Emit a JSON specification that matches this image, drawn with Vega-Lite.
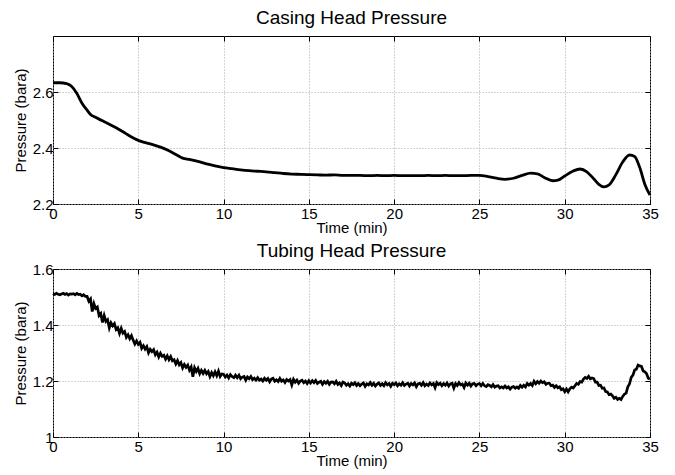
{
  "$schema": "https://vega.github.io/schema/vega-lite/v6.json",
  "padding": {"left": 12, "top": 8, "right": 0, "bottom": 0},
  "spacing": 5,
  "config": {
    "font": "Liberation Sans",
    "view": {"stroke": "black", "strokeWidth": 1},
    "title": {"fontSize": 19, "fontWeight": "normal", "color": "black", "anchor": "middle", "frame": "group", "baseline": "alphabetic", "font": "Liberation Sans"},
    "axis": {
      "labelFont": "Liberation Sans", "titleFont": "Liberation Sans",
      "labelFontSize": 15, "titleFontSize": 15, "titleFontWeight": "normal",
      "labelColor": "black", "titleColor": "black",
      "tickColor": "black", "tickSize": -5, "tickWidth": 1,
      "domain": false,
      "gridColor": "#a8a8a8", "gridDash": [1, 2], "gridWidth": 1, "gridOpacity": 1
    },
    "axisX": {"labelPadding": 7, "titlePadding": -1, "labelFlush": false},
    "axisY": {"labelPadding": 5, "titlePadding": 4, "labelFlush": false}
  },
  "datasets": {
    "casing": [
      {"t": 0, "p": 2.633}, {"t": 0.4, "p": 2.633}, {"t": 0.8, "p": 2.63}, {"t": 1.1, "p": 2.62}, {"t": 1.4, "p": 2.595},
      {"t": 1.7, "p": 2.56}, {"t": 2.0, "p": 2.535}, {"t": 2.2, "p": 2.52}, {"t": 2.5, "p": 2.51}, {"t": 2.9, "p": 2.497},
      {"t": 3.3, "p": 2.485}, {"t": 3.7, "p": 2.472}, {"t": 4.1, "p": 2.458}, {"t": 4.5, "p": 2.443}, {"t": 4.9, "p": 2.43},
      {"t": 5.3, "p": 2.421}, {"t": 5.8, "p": 2.413}, {"t": 6.3, "p": 2.403}, {"t": 6.8, "p": 2.39}, {"t": 7.2, "p": 2.377},
      {"t": 7.6, "p": 2.364}, {"t": 8.0, "p": 2.359}, {"t": 8.5, "p": 2.352}, {"t": 9.0, "p": 2.343}, {"t": 9.5, "p": 2.336},
      {"t": 10.0, "p": 2.33}, {"t": 10.5, "p": 2.326}, {"t": 11.0, "p": 2.322}, {"t": 11.5, "p": 2.319}, {"t": 12.0, "p": 2.317},
      {"t": 12.5, "p": 2.315}, {"t": 13.0, "p": 2.312}, {"t": 13.5, "p": 2.309}, {"t": 14.0, "p": 2.307}, {"t": 14.5, "p": 2.306},
      {"t": 15.0, "p": 2.305}, {"t": 15.5, "p": 2.304}, {"t": 16.0, "p": 2.303}, {"t": 16.5, "p": 2.304}, {"t": 17.0, "p": 2.302},
      {"t": 17.5, "p": 2.302}, {"t": 18.0, "p": 2.302}, {"t": 18.5, "p": 2.301}, {"t": 19.0, "p": 2.302}, {"t": 19.5, "p": 2.301},
      {"t": 20.0, "p": 2.302}, {"t": 20.5, "p": 2.301}, {"t": 21.0, "p": 2.301}, {"t": 21.5, "p": 2.301}, {"t": 22.0, "p": 2.302},
      {"t": 22.5, "p": 2.301}, {"t": 23.0, "p": 2.302}, {"t": 23.5, "p": 2.301}, {"t": 24.0, "p": 2.301}, {"t": 24.5, "p": 2.302},
      {"t": 25.0, "p": 2.302}, {"t": 25.5, "p": 2.298}, {"t": 26.0, "p": 2.292}, {"t": 26.5, "p": 2.288}, {"t": 27.0, "p": 2.292},
      {"t": 27.5, "p": 2.302}, {"t": 28.0, "p": 2.31}, {"t": 28.4, "p": 2.308}, {"t": 28.8, "p": 2.295}, {"t": 29.3, "p": 2.283},
      {"t": 29.6, "p": 2.285}, {"t": 30.0, "p": 2.3}, {"t": 30.5, "p": 2.318}, {"t": 30.9, "p": 2.325}, {"t": 31.3, "p": 2.315},
      {"t": 31.7, "p": 2.29}, {"t": 32.0, "p": 2.27}, {"t": 32.3, "p": 2.261}, {"t": 32.6, "p": 2.268}, {"t": 33.0, "p": 2.305},
      {"t": 33.4, "p": 2.35}, {"t": 33.8, "p": 2.375}, {"t": 34.1, "p": 2.37}, {"t": 34.4, "p": 2.33}, {"t": 34.7, "p": 2.27},
      {"t": 35.0, "p": 2.232}
    ],
    "tubing": [
      {"t":0.0,"p":1.512},{"t":0.1,"p":1.509},{"t":0.2,"p":1.513},{"t":0.3,"p":1.510},{"t":0.4,"p":1.508},
      {"t":0.5,"p":1.511},{"t":0.6,"p":1.513},{"t":0.7,"p":1.509},{"t":0.8,"p":1.512},{"t":0.9,"p":1.507},
      {"t":1.0,"p":1.511},{"t":1.1,"p":1.510},{"t":1.2,"p":1.512},{"t":1.3,"p":1.508},{"t":1.4,"p":1.513},
      {"t":1.5,"p":1.509},{"t":1.6,"p":1.510},{"t":1.7,"p":1.504},{"t":1.8,"p":1.508},{"t":1.9,"p":1.502},
      {"t":2.0,"p":1.502},{"t":2.1,"p":1.485},{"t":2.2,"p":1.493},{"t":2.3,"p":1.448},{"t":2.4,"p":1.476},
      {"t":2.5,"p":1.459},{"t":2.6,"p":1.464},{"t":2.7,"p":1.434},{"t":2.8,"p":1.441},{"t":2.9,"p":1.409},
      {"t":3.0,"p":1.434},{"t":3.1,"p":1.413},{"t":3.2,"p":1.419},{"t":3.3,"p":1.390},{"t":3.4,"p":1.408},
      {"t":3.5,"p":1.397},{"t":3.6,"p":1.405},{"t":3.7,"p":1.384},{"t":3.8,"p":1.390},{"t":3.9,"p":1.370},
      {"t":4.0,"p":1.388},{"t":4.1,"p":1.371},{"t":4.2,"p":1.377},{"t":4.3,"p":1.356},{"t":4.4,"p":1.365},
      {"t":4.5,"p":1.351},{"t":4.6,"p":1.362},{"t":4.7,"p":1.346},{"t":4.8,"p":1.332},{"t":4.9,"p":1.343},
      {"t":5.0,"p":1.331},{"t":5.1,"p":1.338},{"t":5.2,"p":1.317},{"t":5.3,"p":1.326},{"t":5.4,"p":1.314},
      {"t":5.5,"p":1.323},{"t":5.6,"p":1.301},{"t":5.7,"p":1.313},{"t":5.8,"p":1.305},{"t":5.9,"p":1.312},
      {"t":6.0,"p":1.294},{"t":6.1,"p":1.303},{"t":6.2,"p":1.286},{"t":6.3,"p":1.299},{"t":6.4,"p":1.288},
      {"t":6.5,"p":1.292},{"t":6.6,"p":1.278},{"t":6.7,"p":1.290},{"t":6.8,"p":1.276},{"t":6.9,"p":1.287},
      {"t":7.0,"p":1.272},{"t":7.1,"p":1.276},{"t":7.2,"p":1.261},{"t":7.3,"p":1.273},{"t":7.4,"p":1.258},
      {"t":7.5,"p":1.266},{"t":7.6,"p":1.247},{"t":7.7,"p":1.259},{"t":7.8,"p":1.249},{"t":7.9,"p":1.257},
      {"t":8.0,"p":1.239},{"t":8.1,"p":1.250},{"t":8.2,"p":1.215},{"t":8.3,"p":1.247},{"t":8.4,"p":1.234},
      {"t":8.5,"p":1.245},{"t":8.6,"p":1.226},{"t":8.7,"p":1.238},{"t":8.8,"p":1.227},{"t":8.9,"p":1.238},
      {"t":9.0,"p":1.226},{"t":9.1,"p":1.234},{"t":9.2,"p":1.216},{"t":9.3,"p":1.230},{"t":9.4,"p":1.219},
      {"t":9.5,"p":1.233},{"t":9.6,"p":1.219},{"t":9.7,"p":1.235},{"t":9.8,"p":1.216},{"t":9.9,"p":1.225},
      {"t":10.0,"p":1.224},{"t":10.1,"p":1.214},{"t":10.2,"p":1.221},{"t":10.3,"p":1.211},{"t":10.4,"p":1.223},
      {"t":10.5,"p":1.216},{"t":10.6,"p":1.212},{"t":10.7,"p":1.221},{"t":10.8,"p":1.212},{"t":10.9,"p":1.221},
      {"t":11.0,"p":1.208},{"t":11.1,"p":1.214},{"t":11.2,"p":1.216},{"t":11.3,"p":1.203},{"t":11.4,"p":1.214},
      {"t":11.5,"p":1.208},{"t":11.6,"p":1.216},{"t":11.7,"p":1.205},{"t":11.8,"p":1.210},{"t":11.9,"p":1.203},
      {"t":12.0,"p":1.212},{"t":12.1,"p":1.203},{"t":12.2,"p":1.207},{"t":12.3,"p":1.200},{"t":12.4,"p":1.210},
      {"t":12.5,"p":1.203},{"t":12.6,"p":1.209},{"t":12.7,"p":1.197},{"t":12.8,"p":1.207},{"t":12.9,"p":1.210},
      {"t":13.0,"p":1.199},{"t":13.1,"p":1.204},{"t":13.2,"p":1.198},{"t":13.3,"p":1.209},{"t":13.4,"p":1.199},
      {"t":13.5,"p":1.204},{"t":13.6,"p":1.195},{"t":13.7,"p":1.205},{"t":13.8,"p":1.200},{"t":13.9,"p":1.205},
      {"t":14.0,"p":1.186},{"t":14.1,"p":1.206},{"t":14.2,"p":1.196},{"t":14.3,"p":1.203},{"t":14.4,"p":1.192},
      {"t":14.5,"p":1.200},{"t":14.6,"p":1.203},{"t":14.7,"p":1.194},{"t":14.8,"p":1.200},{"t":14.9,"p":1.191},
      {"t":15.0,"p":1.201},{"t":15.1,"p":1.193},{"t":15.2,"p":1.201},{"t":15.3,"p":1.194},{"t":15.4,"p":1.202},
      {"t":15.5,"p":1.191},{"t":15.6,"p":1.196},{"t":15.7,"p":1.199},{"t":15.8,"p":1.188},{"t":15.9,"p":1.198},
      {"t":16.0,"p":1.192},{"t":16.1,"p":1.199},{"t":16.2,"p":1.188},{"t":16.3,"p":1.196},{"t":16.4,"p":1.197},
      {"t":16.5,"p":1.190},{"t":16.6,"p":1.199},{"t":16.7,"p":1.188},{"t":16.8,"p":1.193},{"t":16.9,"p":1.184},
      {"t":17.0,"p":1.196},{"t":17.1,"p":1.193},{"t":17.2,"p":1.185},{"t":17.3,"p":1.190},{"t":17.4,"p":1.182},
      {"t":17.5,"p":1.192},{"t":17.6,"p":1.187},{"t":17.7,"p":1.194},{"t":17.8,"p":1.184},{"t":17.9,"p":1.191},
      {"t":18.0,"p":1.183},{"t":18.1,"p":1.189},{"t":18.2,"p":1.193},{"t":18.3,"p":1.181},{"t":18.4,"p":1.190},
      {"t":18.5,"p":1.186},{"t":18.6,"p":1.194},{"t":18.7,"p":1.185},{"t":18.8,"p":1.192},{"t":18.9,"p":1.182},
      {"t":19.0,"p":1.189},{"t":19.1,"p":1.193},{"t":19.2,"p":1.184},{"t":19.3,"p":1.190},{"t":19.4,"p":1.183},
      {"t":19.5,"p":1.194},{"t":19.6,"p":1.186},{"t":19.7,"p":1.191},{"t":19.8,"p":1.181},{"t":19.9,"p":1.192},
      {"t":20.0,"p":1.187},{"t":20.1,"p":1.193},{"t":20.2,"p":1.183},{"t":20.3,"p":1.190},{"t":20.4,"p":1.185},
      {"t":20.5,"p":1.194},{"t":20.6,"p":1.184},{"t":20.7,"p":1.189},{"t":20.8,"p":1.192},{"t":20.9,"p":1.182},
      {"t":21.0,"p":1.191},{"t":21.1,"p":1.186},{"t":21.2,"p":1.193},{"t":21.3,"p":1.180},{"t":21.4,"p":1.190},
      {"t":21.5,"p":1.192},{"t":21.6,"p":1.185},{"t":21.7,"p":1.194},{"t":21.8,"p":1.183},{"t":21.9,"p":1.189},
      {"t":22.0,"p":1.184},{"t":22.1,"p":1.193},{"t":22.2,"p":1.186},{"t":22.3,"p":1.191},{"t":22.4,"p":1.176},
      {"t":22.5,"p":1.194},{"t":22.6,"p":1.187},{"t":22.7,"p":1.192},{"t":22.8,"p":1.183},{"t":22.9,"p":1.191},
      {"t":23.0,"p":1.185},{"t":23.1,"p":1.193},{"t":23.2,"p":1.182},{"t":23.3,"p":1.190},{"t":23.4,"p":1.192},
      {"t":23.5,"p":1.175},{"t":23.6,"p":1.191},{"t":23.7,"p":1.184},{"t":23.8,"p":1.194},{"t":23.9,"p":1.186},
      {"t":24.0,"p":1.189},{"t":24.1,"p":1.177},{"t":24.2,"p":1.193},{"t":24.3,"p":1.185},{"t":24.4,"p":1.192},
      {"t":24.5,"p":1.182},{"t":24.6,"p":1.190},{"t":24.7,"p":1.191},{"t":24.8,"p":1.183},{"t":24.9,"p":1.189},
      {"t":25.0,"p":1.191},{"t":25.1,"p":1.183},{"t":25.2,"p":1.191},{"t":25.3,"p":1.183},{"t":25.4,"p":1.180},
      {"t":25.5,"p":1.187},{"t":25.6,"p":1.184},{"t":25.7,"p":1.179},{"t":25.8,"p":1.187},{"t":25.9,"p":1.178},
      {"t":26.0,"p":1.182},{"t":26.1,"p":1.183},{"t":26.2,"p":1.175},{"t":26.3,"p":1.179},{"t":26.4,"p":1.175},
      {"t":26.5,"p":1.182},{"t":26.6,"p":1.175},{"t":26.7,"p":1.179},{"t":26.8,"p":1.171},{"t":26.9,"p":1.178},
      {"t":27.0,"p":1.180},{"t":27.1,"p":1.174},{"t":27.2,"p":1.179},{"t":27.3,"p":1.174},{"t":27.4,"p":1.184},
      {"t":27.5,"p":1.178},{"t":27.6,"p":1.185},{"t":27.7,"p":1.179},{"t":27.8,"p":1.191},{"t":27.9,"p":1.185},
      {"t":28.0,"p":1.191},{"t":28.1,"p":1.184},{"t":28.2,"p":1.199},{"t":28.3,"p":1.190},{"t":28.4,"p":1.198},
      {"t":28.5,"p":1.192},{"t":28.6,"p":1.200},{"t":28.7,"p":1.194},{"t":28.8,"p":1.197},{"t":28.9,"p":1.188},
      {"t":29.0,"p":1.192},{"t":29.1,"p":1.192},{"t":29.2,"p":1.183},{"t":29.3,"p":1.185},{"t":29.4,"p":1.177},
      {"t":29.5,"p":1.183},{"t":29.6,"p":1.176},{"t":29.7,"p":1.179},{"t":29.8,"p":1.169},{"t":29.9,"p":1.172},
      {"t":30.0,"p":1.162},{"t":30.1,"p":1.171},{"t":30.2,"p":1.161},{"t":30.3,"p":1.172},{"t":30.4,"p":1.178},
      {"t":30.5,"p":1.175},{"t":30.6,"p":1.183},{"t":30.7,"p":1.191},{"t":30.8,"p":1.188},{"t":30.9,"p":1.198},
      {"t":31.0,"p":1.196},{"t":31.1,"p":1.207},{"t":31.2,"p":1.213},{"t":31.3,"p":1.209},{"t":31.4,"p":1.217},
      {"t":31.5,"p":1.208},{"t":31.6,"p":1.211},{"t":31.7,"p":1.209},{"t":31.8,"p":1.196},{"t":31.9,"p":1.196},
      {"t":32.0,"p":1.184},{"t":32.1,"p":1.185},{"t":32.2,"p":1.174},{"t":32.3,"p":1.175},{"t":32.4,"p":1.162},
      {"t":32.5,"p":1.161},{"t":32.6,"p":1.151},{"t":32.7,"p":1.153},{"t":32.8,"p":1.147},{"t":32.9,"p":1.138},
      {"t":33.0,"p":1.142},{"t":33.1,"p":1.134},{"t":33.2,"p":1.138},{"t":33.3,"p":1.134},{"t":33.4,"p":1.145},
      {"t":33.5,"p":1.153},{"t":33.6,"p":1.157},{"t":33.7,"p":1.179},{"t":33.8,"p":1.190},{"t":33.9,"p":1.213},
      {"t":34.0,"p":1.221},{"t":34.1,"p":1.239},{"t":34.2,"p":1.242},{"t":34.3,"p":1.257},{"t":34.4,"p":1.254},
      {"t":34.5,"p":1.252},{"t":34.6,"p":1.236},{"t":34.7,"p":1.233},{"t":34.8,"p":1.226},{"t":34.9,"p":1.210},
      {"t":35.0,"p":1.207}
    ]
  },
  "vconcat": [
    {
      "title": {"text": "Casing Head Pressure", "offset": 7.5},
      "width": 597, "height": 168,
      "data": {"name": "casing"},
      "layer": [
        {
          "mark": {"type": "line", "color": "black", "strokeWidth": 2.8, "interpolate": "monotone"},
          "encoding": {
            "x": {"field": "t", "type": "quantitative", "scale": {"domain": [0, 35], "nice": false, "zero": false},
                  "axis": {"title": "Time (min)", "values": [0, 5, 10, 15, 20, 25, 30, 35], "format": "d", "grid": true}},
            "y": {"field": "p", "type": "quantitative", "scale": {"domain": [2.2, 2.8], "nice": false, "zero": false},
                  "axis": {"title": "Pressure (bara)", "values": [2.2, 2.4, 2.6], "format": "~g", "grid": true}}
          }
        },
        {
          "mark": {"type": "line", "strokeOpacity": 0},
          "encoding": {
            "x": {"field": "t", "type": "quantitative",
                  "axis": {"orient": "top", "title": null, "labels": false, "grid": false, "values": [0, 5, 10, 15, 20, 25, 30, 35]}},
            "y": {"field": "p", "type": "quantitative",
                  "axis": {"orient": "right", "title": null, "labels": false, "grid": false, "values": [2.2, 2.4, 2.6]}}
          }
        }
      ],
      "resolve": {"axis": {"x": "independent", "y": "independent"}}
    },
    {
      "title": {"text": "Tubing Head Pressure", "offset": 1},
      "width": 597, "height": 168,
      "data": {"name": "tubing"},
      "layer": [
        {
          "mark": {"type": "line", "color": "black", "strokeWidth": 2.7},
          "encoding": {
            "x": {"field": "t", "type": "quantitative", "scale": {"domain": [0, 35], "nice": false, "zero": false},
                  "axis": {"title": "Time (min)", "values": [0, 5, 10, 15, 20, 25, 30, 35], "format": "d", "grid": true}},
            "y": {"field": "p", "type": "quantitative", "scale": {"domain": [1, 1.6], "nice": false, "zero": false},
                  "axis": {"title": "Pressure (bara)", "values": [1, 1.2, 1.4, 1.6], "format": "~g", "grid": true}}
          }
        },
        {
          "mark": {"type": "line", "strokeOpacity": 0},
          "encoding": {
            "x": {"field": "t", "type": "quantitative",
                  "axis": {"orient": "top", "title": null, "labels": false, "grid": false, "values": [0, 5, 10, 15, 20, 25, 30, 35]}},
            "y": {"field": "p", "type": "quantitative",
                  "axis": {"orient": "right", "title": null, "labels": false, "grid": false, "values": [1, 1.2, 1.4, 1.6]}}
          }
        }
      ],
      "resolve": {"axis": {"x": "independent", "y": "independent"}}
    }
  ]
}
